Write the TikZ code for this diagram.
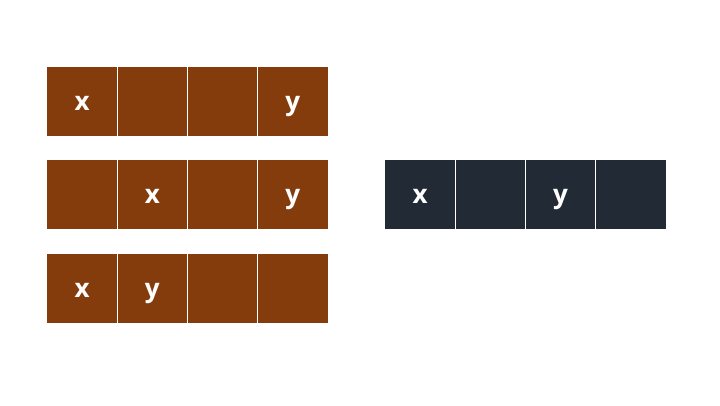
\documentclass[tikz,border=0pt]{standalone}
\usepackage{fontspec}
\setmainfont{Open Sans}
\definecolor{brownc}{HTML}{843C0C}
\definecolor{darkc}{HTML}{222A35}
\begin{document}
\begin{tikzpicture}[x=1pt,y=-1pt,
  cell/.style={draw=none,minimum width=70.25pt,minimum height=69pt,inner sep=0pt,outer sep=0pt,anchor=north west,text=white,text height=18pt,text depth=0pt,font=\fontsize{26}{28}\selectfont\bfseries},
  bcell/.style={cell,fill=brownc},
  dcell/.style={cell,fill=darkc},
  sep/.style={draw=white,line width=1.2pt}]
\useasboundingbox (0,0) rectangle (720,405);
\fill[white] (0,0) rectangle (720,405);
% row 1
\node[bcell] (a1) at (47,67) {x};
\node[bcell] (a2) at (117.25,67) {};
\node[bcell] (a3) at (187.5,67) {};
\node[bcell] (a4) at (257.75,67) {y};
% row 2
\node[bcell] (b1) at (47,160) {};
\node[bcell] (b2) at (117.25,160) {x};
\node[bcell] (b3) at (187.5,160) {};
\node[bcell] (b4) at (257.75,160) {y};
% row 3
\node[bcell] (c1) at (47,254) {x};
\node[bcell] (c2) at (117.25,254) {y};
\node[bcell] (c3) at (187.5,254) {};
\node[bcell] (c4) at (257.75,254) {};
% dark row
\node[dcell] (d1) at (385,160) {x};
\node[dcell] (d2) at (455.25,160) {};
\node[dcell] (d3) at (525.5,160) {y};
\node[dcell] (d4) at (595.75,160) {};
% separators
\foreach \r in {a,b,c,d}{
  \draw[sep] (\r1.north east) -- (\r1.south east);
  \draw[sep] (\r2.north east) -- (\r2.south east);
  \draw[sep] (\r3.north east) -- (\r3.south east);
}
\end{tikzpicture}
\end{document}
